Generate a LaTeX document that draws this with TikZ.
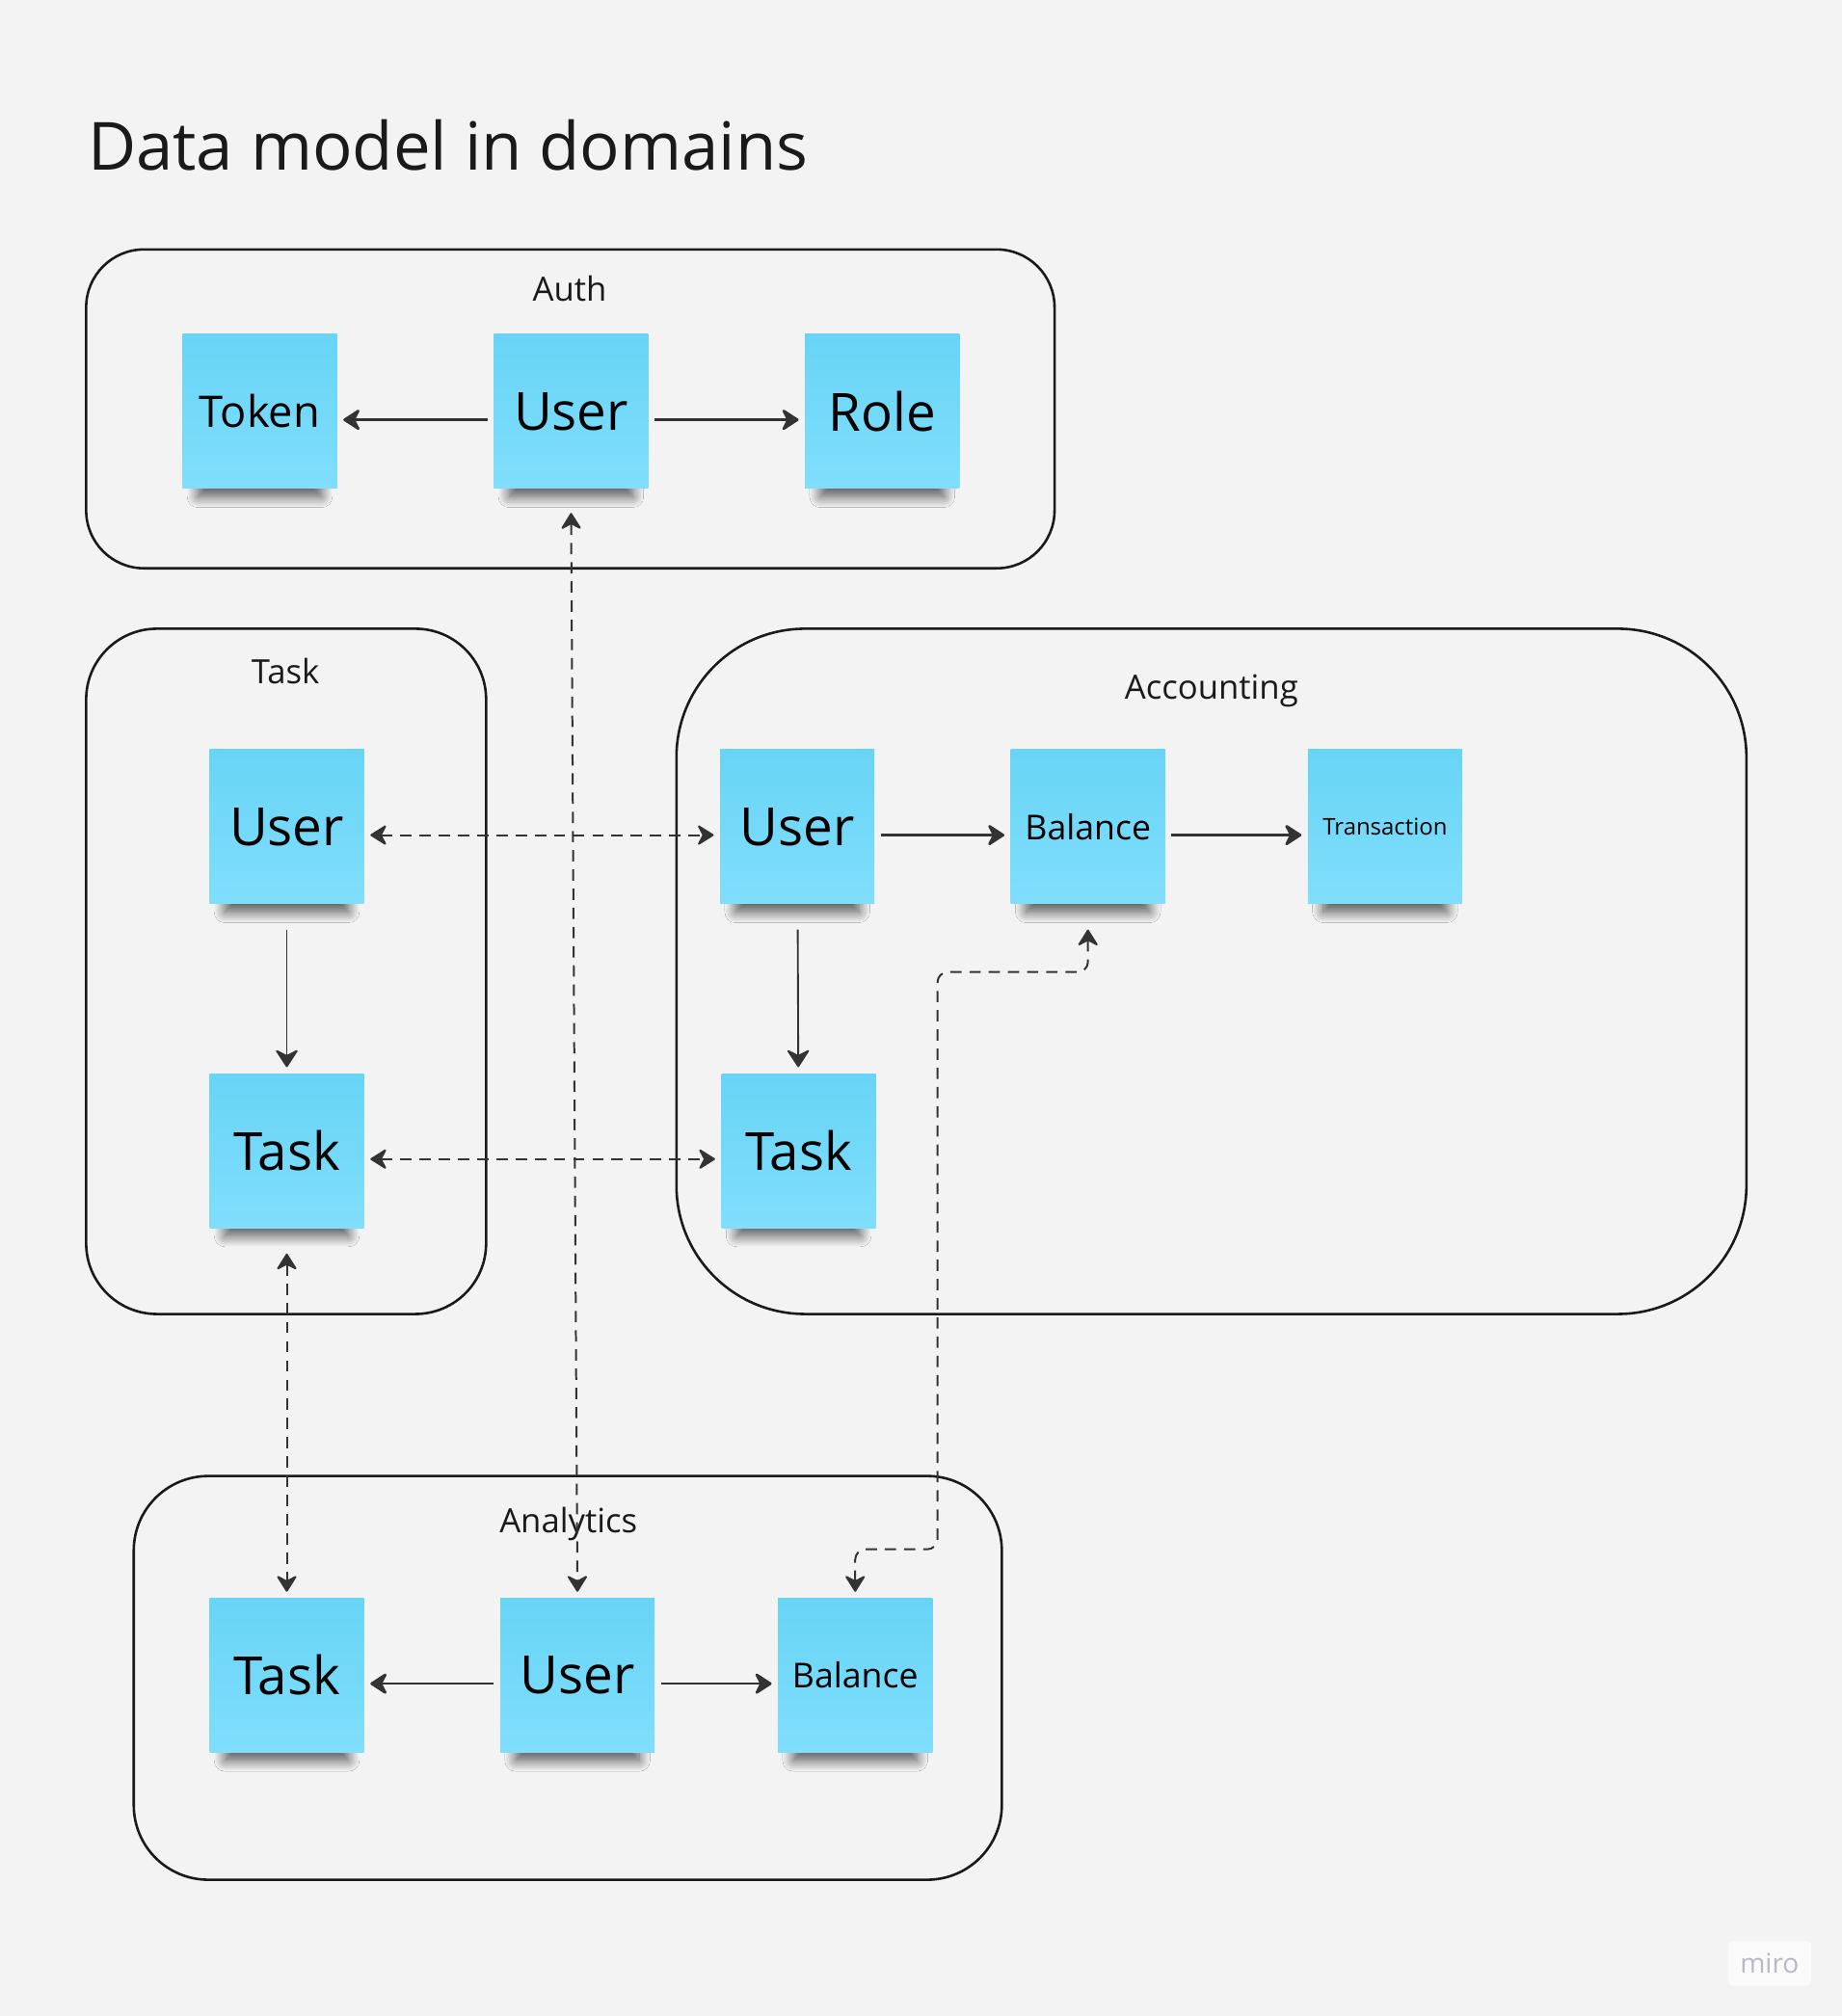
\documentclass[tikz,border=0pt]{standalone}
\usepackage{fontspec}
\setmainfont{Open Sans}
\usetikzlibrary{arrows.meta,shadows.blur}

\definecolor{fondo}{HTML}{F3F3F3}
\definecolor{notaarriba}{HTML}{68D4F6}
\definecolor{notaabajo}{HTML}{80DEFC}
\definecolor{linea}{HTML}{333333}
\definecolor{marco}{HTML}{1A1A1A}
\definecolor{marca}{HTML}{B9B9C6}

\tikzset{
  nota/.style={minimum width=2.4cm, minimum height=2.4cm, inner sep=0pt, outer sep=0.1cm,
    top color=notaarriba, bottom color=notaabajo,
    blur shadow={shadow xshift=0pt, shadow yshift=-13pt, shadow scale=0.8, shadow opacity=65,
      shadow blur radius=6pt, shadow blur steps=16},
    font=\fontsize{23.3pt}{28pt}\selectfont},
  marcodom/.style={draw=marco, line width=1.1pt},
  etiqueta/.style={anchor=base, font=\fontsize{14.8pt}{18pt}\selectfont, text=marco},
  flecha/.style={draw=linea, line width=1.15pt, -{Stealth[length=8.5pt, width=11pt, inset=2.8pt, round]}},
  dflecha/.style={draw=linea, line width=0.85pt, dash pattern=on 5pt off 3.5pt,
    {Stealth[length=8pt, width=10pt, inset=2.6pt, round]}-{Stealth[length=8pt, width=10pt, inset=2.6pt, round]}},
  bajo/.style={transform canvas={yshift=-0.13cm}}
}

\begin{document}
\begin{tikzpicture}[x=0.02cm, y=-0.02cm]
  \fill[fondo] (0,0) rectangle (1432,1568);
  \useasboundingbox (0,0) rectangle (1432,1568);

  % Titulo
  \node[anchor=base west, font=\fontsize{29.4pt}{34pt}\selectfont, text=marco] (titulo) at (62,132) {Data model in domains};

  % Dominios
  \draw[marcodom, rounded corners=0.9cm] (67,194) rectangle (820,442);
  \draw[marcodom, rounded corners=1.1cm] (67,489) rectangle (378,1022);
  \draw[marcodom, rounded corners=2cm] (526,489) rectangle (1358,1022);
  \draw[marcodom, rounded corners=1.16cm] (104,1148) rectangle (779,1462);

  \node[etiqueta] (lauth) at (443,234) {Auth};
  \node[etiqueta] (ltask) at (222,532) {Task};
  \node[etiqueta] (lacc) at (942,544) {Accounting};
  \node[etiqueta] (lan) at (442,1192) {Analytics};

  % Auth
  \node[nota, font=\fontsize{19.3pt}{23pt}\selectfont] (authToken) at (202,320) {Token};
  \node[nota] (authUser) at (444,320) {User};
  \node[nota] (authRole) at (686,320) {Role};

  % Task
  \node[nota] (taskUser) at (223,643) {User};
  \node[nota] (taskTask) at (223,895) {Task};

  % Accounting
  \node[nota] (accUser) at (620,643) {User};
  \node[nota, font=\fontsize{15.2pt}{18pt}\selectfont] (accBalance) at (846,643) {Balance};
  \node[nota, font=\fontsize{10.2pt}{12pt}\selectfont] (accTrans) at (1077,643) {Transaction};
  \node[nota] (accTask) at (621,895) {Task};

  % Analytics
  \node[nota] (anTask) at (223,1303) {Task};
  \node[nota] (anUser) at (449,1303) {User};
  \node[nota, font=\fontsize{15.2pt}{18pt}\selectfont] (anBalance) at (665,1303) {Balance};

  % Flechas dentro de cada dominio
  \draw[flecha, bajo] (authUser) -- (authToken);
  \draw[flecha, bajo] (authUser) -- (authRole);
  \draw[flecha, line width=0.8pt, shorten <=0.3cm] (taskUser) -- (taskTask);
  \draw[flecha, bajo] (accUser) -- (accBalance);
  \draw[flecha, bajo] (accBalance) -- (accTrans);
  \draw[flecha, line width=0.8pt, shorten <=0.3cm] (accUser) -- (accTask);
  \draw[flecha, bajo] (anUser) -- (anTask);
  \draw[flecha, bajo] (anUser) -- (anBalance);

  % Flechas entre dominios
  \draw[dflecha, shorten <=0.28cm] (authUser.south) -- (anUser.north);
  \draw[dflecha, bajo] (taskUser) -- (accUser);
  \draw[dflecha, bajo] (taskTask) -- (accTask);
  \draw[dflecha, shorten <=0.3cm] (taskTask.south) -- (anTask.north);
  \draw[dflecha, rounded corners=0.16cm, shorten <=0.3cm] (accBalance.south) |- (729,756) -- (729,1205) -| (anBalance.north);

  % Marca
  \node[fill=white!55!fondo, rounded corners=2pt, text=marca, font=\fontsize{12pt}{14pt}\selectfont, minimum width=1.3cm, minimum height=0.7cm] (miro) at (1376,1527) {miro};
\end{tikzpicture}
\end{document}
